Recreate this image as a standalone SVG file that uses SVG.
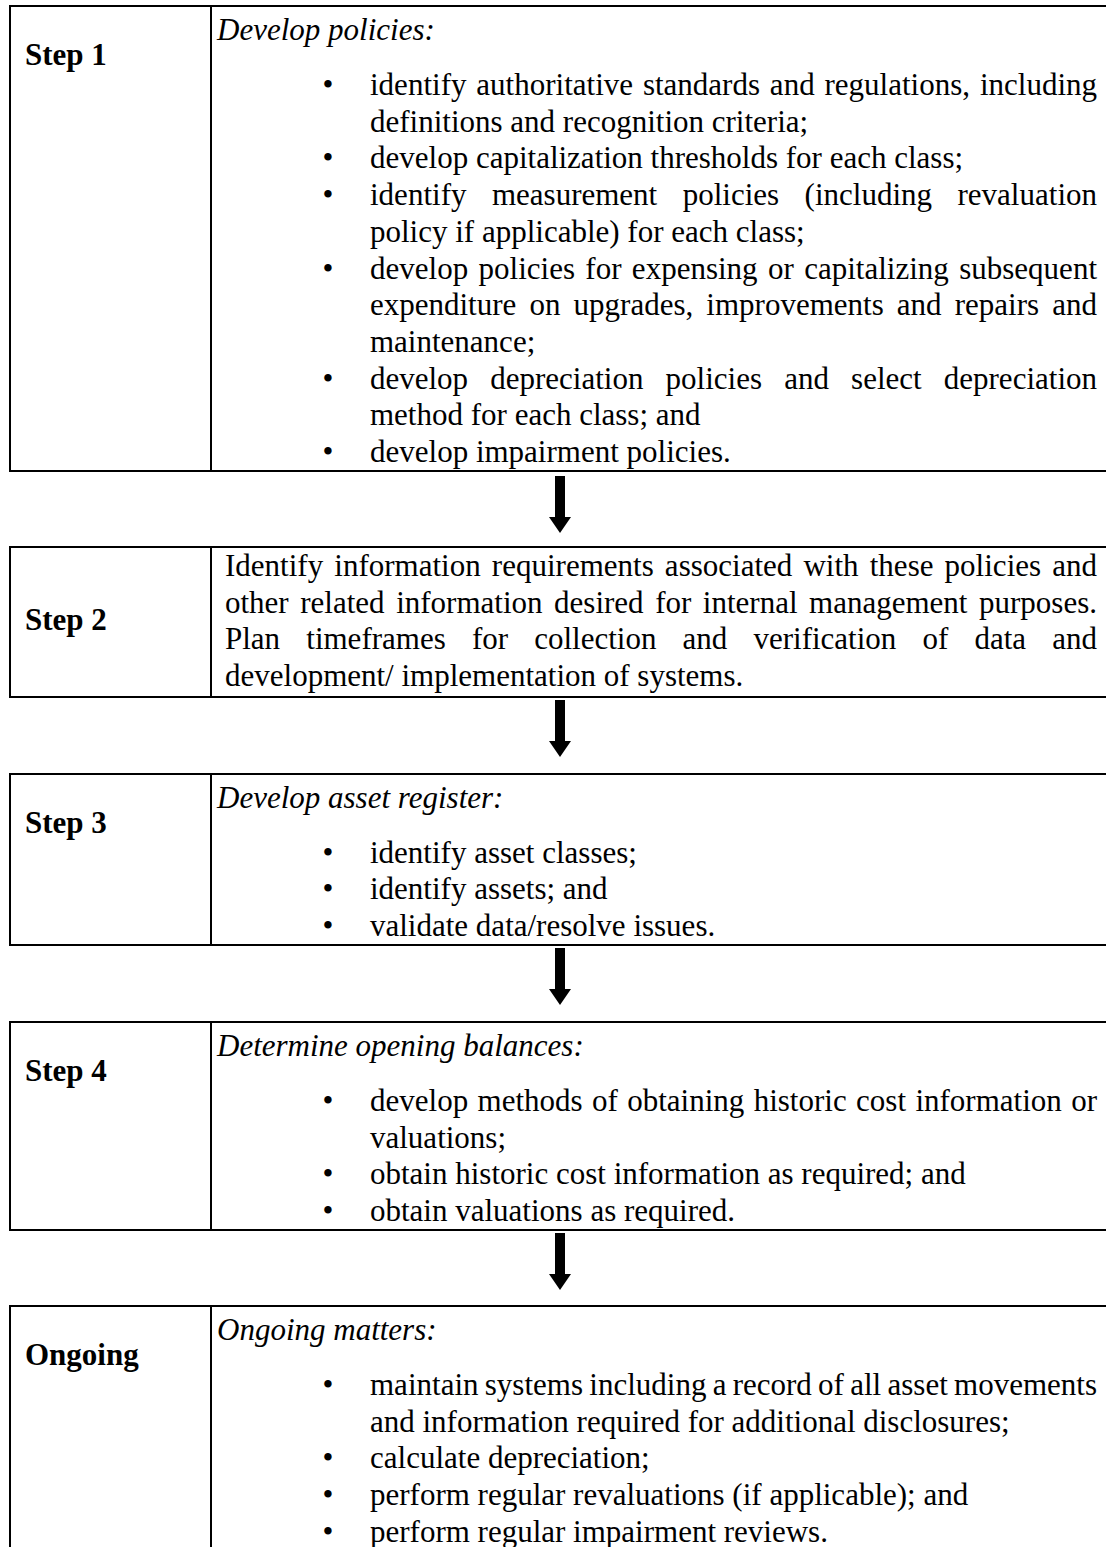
<svg xmlns="http://www.w3.org/2000/svg" width="1106" height="1547" viewBox="0 0 1106 1547">
<style>
  .box { fill: #ffffff; stroke: #000000; stroke-width: 2; }
  .div { stroke: #000000; stroke-width: 2; }
  text { font-family: "Liberation Serif", "Times New Roman", serif; font-size: 31px; fill: #000000; }
  .lbl { font-weight: bold; }
  .ttl { font-style: italic; }
  .bul { text-anchor: middle; }
  .arrow { fill: #000000; stroke: none; }
</style>
<rect x="0" y="0" width="1106" height="1547" fill="#ffffff"/>

<g id="step1">
  <rect class="box" x="10" y="6" width="1110" height="465"/>
  <line class="div" x1="211" y1="6" x2="211" y2="471"/>
  <text class="lbl" x="25" y="65">Step 1</text>
  <text class="ttl" x="217" y="40">Develop policies:</text>
  <text class="bul" x="328" y="95">•</text>
  <text x="370" y="95" word-spacing="2.1" textLength="727" lengthAdjust="spacing">identify authoritative standards and regulations, including</text>
  <text x="370" y="131.7">definitions and recognition criteria;</text>
  <text class="bul" x="328" y="168.4">•</text>
  <text x="370" y="168.4">develop capitalization thresholds for each class;</text>
  <text class="bul" x="328" y="205.1">•</text>
  <text x="370" y="205.1" word-spacing="17.7" textLength="727" lengthAdjust="spacing">identify measurement policies (including revaluation</text>
  <text x="370" y="241.8">policy if applicable) for each class;</text>
  <text class="bul" x="328" y="278.5">•</text>
  <text x="370" y="278.5" word-spacing="2.6" textLength="727" lengthAdjust="spacing">develop policies for expensing or capitalizing subsequent</text>
  <text x="370" y="315.2" word-spacing="5.4" textLength="727" lengthAdjust="spacing">expenditure on upgrades, improvements and repairs and</text>
  <text x="370" y="351.9">maintenance;</text>
  <text class="bul" x="328" y="388.6">•</text>
  <text x="370" y="388.6" word-spacing="14.4" textLength="727" lengthAdjust="spacing">develop depreciation policies and select depreciation</text>
  <text x="370" y="425.3">method for each class; and</text>
  <text class="bul" x="328" y="462">•</text>
  <text x="370" y="462">develop impairment policies.</text>
</g>

<g id="step2">
  <rect class="box" x="10" y="547" width="1110" height="150"/>
  <line class="div" x1="211" y1="547" x2="211" y2="697"/>
  <text class="lbl" x="25" y="630">Step 2</text>
  <text x="225" y="576" word-spacing="3.4" textLength="872" lengthAdjust="spacing">Identify information requirements associated with these policies and</text>
  <text x="225" y="612.7" word-spacing="3.8" textLength="872" lengthAdjust="spacing">other related information desired for internal management purposes.</text>
  <text x="225" y="649.4" word-spacing="18.4" textLength="872" lengthAdjust="spacing">Plan timeframes for collection and verification of data and</text>
  <text x="225" y="686.1">development/ implementation of systems.</text>
</g>

<g id="step3">
  <rect class="box" x="10" y="774" width="1110" height="171"/>
  <line class="div" x1="211" y1="774" x2="211" y2="945"/>
  <text class="lbl" x="25" y="833">Step 3</text>
  <text class="ttl" x="217" y="808">Develop asset register:</text>
  <text class="bul" x="328" y="862.6">•</text>
  <text x="370" y="862.6">identify asset classes;</text>
  <text class="bul" x="328" y="899.3">•</text>
  <text x="370" y="899.3">identify assets; and</text>
  <text class="bul" x="328" y="936">•</text>
  <text x="370" y="936">validate data/resolve issues.</text>
</g>

<g id="step4">
  <rect class="box" x="10" y="1022" width="1110" height="208"/>
  <line class="div" x1="211" y1="1022" x2="211" y2="1230"/>
  <text class="lbl" x="25" y="1081">Step 4</text>
  <text class="ttl" x="217" y="1056">Determine opening balances:</text>
  <text class="bul" x="328" y="1110.9">•</text>
  <text x="370" y="1110.9" word-spacing="1.6" textLength="727" lengthAdjust="spacing">develop methods of obtaining historic cost information or</text>
  <text x="370" y="1147.6">valuations;</text>
  <text class="bul" x="328" y="1184.3">•</text>
  <text x="370" y="1184.3">obtain historic cost information as required; and</text>
  <text class="bul" x="328" y="1221">•</text>
  <text x="370" y="1221">obtain valuations as required.</text>
</g>

<g id="ongoing">
  <rect class="box" x="10" y="1306" width="1110" height="260"/>
  <line class="div" x1="211" y1="1306" x2="211" y2="1566"/>
  <text class="lbl" x="25" y="1365">Ongoing</text>
  <text class="ttl" x="217" y="1340">Ongoing matters:</text>
  <text class="bul" x="328" y="1395">•</text>
  <text x="370" y="1395" word-spacing="-1.5" textLength="727" lengthAdjust="spacing">maintain systems including a record of all asset movements</text>
  <text x="370" y="1431.7">and information required for additional disclosures;</text>
  <text class="bul" x="328" y="1468.4">•</text>
  <text x="370" y="1468.4">calculate depreciation;</text>
  <text class="bul" x="328" y="1505.1">•</text>
  <text x="370" y="1505.1">perform regular revaluations (if applicable); and</text>
  <text class="bul" x="328" y="1541.8">•</text>
  <text x="370" y="1541.8">perform regular impairment reviews.</text>
</g>

<g id="connectors">
  <path class="arrow" d="M555,476 H565 V517 H571 L560,533 L549,517 H555 Z"/>
  <path class="arrow" d="M555,700 H565 V741 H571 L560,757 L549,741 H555 Z"/>
  <path class="arrow" d="M555,948 H565 V989 H571 L560,1005 L549,989 H555 Z"/>
  <path class="arrow" d="M555,1233 H565 V1274 H571 L560,1290 L549,1274 H555 Z"/>
</g>
</svg>
